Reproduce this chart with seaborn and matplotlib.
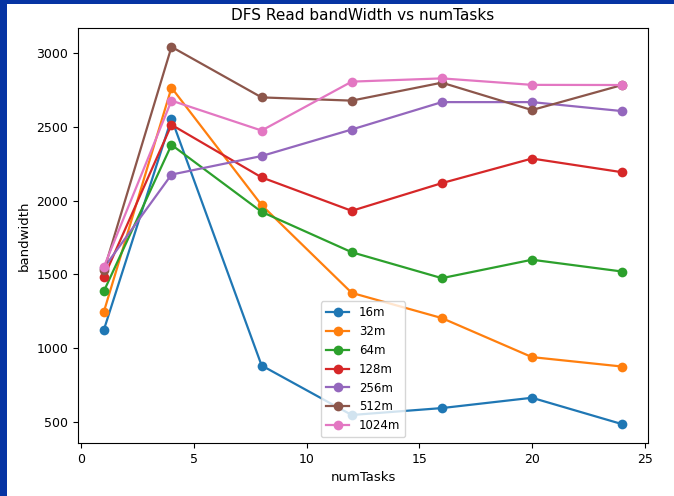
import matplotlib
matplotlib.use("Agg")
import matplotlib.pyplot as plt
import seaborn as sns
import pandas as pd
from matplotlib.patches import Rectangle

num_tasks = [1, 4, 8, 12, 16, 20, 24]
block_sizes = ["16m", "32m", "64m", "128m", "256m", "512m", "1024m"]
bw_16m = [1125, 2558, 882, 546, 593, 663, 484]
bw_32m = [1248, 2768, 1971, 1375, 1204, 939, 875]
bw_64m = [1387, 2380, 1925, 1651, 1475, 1600, 1520]
bw_128m = [1482, 2516, 2159, 1932, 2120, 2287, 2194]
bw_256m = [1545, 2178, 2304, 2484, 2670, 2670, 2609]
bw_512m = [1527, 3045, 2702, 2680, 2802, 2616, 2786]
bw_1024m = [1552, 2680, 2477, 2809, 2831, 2787, 2786]

series = [bw_16m, bw_32m, bw_64m, bw_128m, bw_256m, bw_512m, bw_1024m]
rows = []
for name, vals in zip(block_sizes, series):
    for t, v in zip(num_tasks, vals):
        rows.append({"numTasks": t, "bandwidth": v, "size": name})
df = pd.DataFrame(rows)

fig = plt.figure(figsize=(6.74, 4.96), dpi=100)
fig.patch.set_facecolor("white")
# screenshot border
fig.patches.append(Rectangle((0, 0), 7 / 674, 1, transform=fig.transFigure,
                             facecolor="#0634a3", edgecolor="none", zorder=-1))
fig.patches.append(Rectangle((0, 1 - 3.5 / 496), 1, 3.5 / 496, transform=fig.transFigure,
                             facecolor="#0634a3", edgecolor="none", zorder=-1))

ax = fig.add_axes([78 / 674, 1 - 443 / 496, (648 - 78) / 674, (443 - 28) / 496])
palette = sns.color_palette("tab10", 7)
sns.lineplot(data=df, x="numTasks", y="bandwidth", hue="size", hue_order=block_sizes,
             palette=palette, marker="o", markersize=7, markeredgewidth=0,
             linewidth=1.6, ax=ax)

ax.set_title("DFS Read bandWidth vs numTasks", fontsize=11)
ax.set_xlabel("numTasks", fontsize=9.5)
ax.set_ylabel("bandwidth", fontsize=9.5)
ax.tick_params(labelsize=9)
ax.set_xticks([0, 5, 10, 15, 20, 25])
ax.set_yticks([500, 1000, 1500, 2000, 2500, 3000])
ax.legend(loc="lower center", fontsize=8.5, handlelength=2.0)

fig.savefig("out.png", dpi=100)
